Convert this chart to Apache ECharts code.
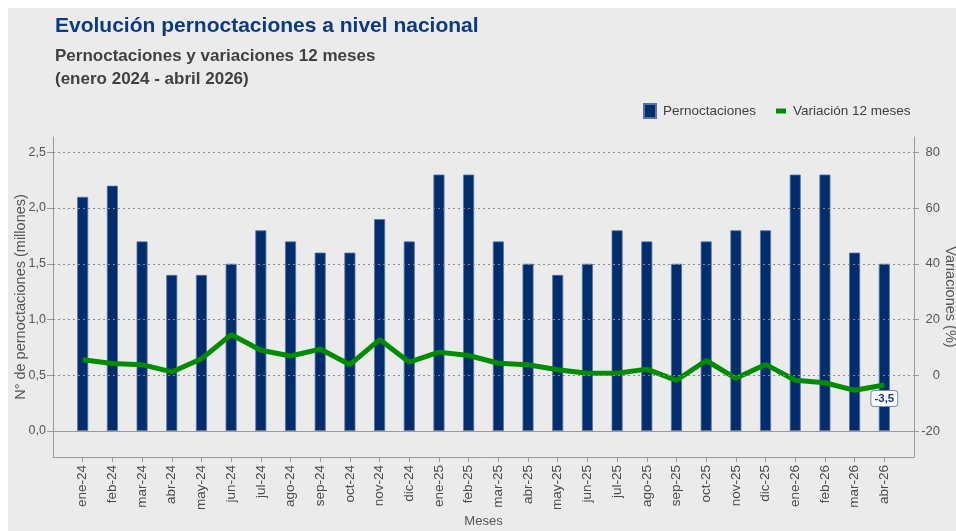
<!DOCTYPE html>
<html>
<head>
<meta charset="utf-8">
<script src="https://cdn.jsdelivr.net/npm/echarts@6/dist/echarts.min.js"></script>
<style>
html,body{margin:0;padding:0;background:#ffffff;}
#chart{width:956px;height:531px;}
</style>
</head>
<body>
<div id="chart"></div>
<script>
const categories = ['ene-24','feb-24','mar-24','abr-24','may-24','jun-24','jul-24','ago-24','sep-24','oct-24','nov-24','dic-24',
  'ene-25','feb-25','mar-25','abr-25','may-25','jun-25','jul-25','ago-25','sep-25','oct-25','nov-25','dic-25',
  'ene-26','feb-26','mar-26','abr-26'];
const pernoctaciones = [2.1,2.2,1.7,1.4,1.4,1.5,1.8,1.7,1.6,1.6,1.9,1.7,
  2.3,2.3,1.7,1.5,1.4,1.5,1.8,1.7,1.5,1.7,1.8,1.8,
  2.3,2.3,1.6,1.5];
const variacion = [5.6,4.2,3.8,1.2,5.9,14.6,9.0,6.9,9.4,3.8,12.8,4.7,
  8.3,7.1,4.3,3.8,2.0,0.7,0.7,2.2,-1.8,5.3,-1.1,3.9,
  -1.8,-2.7,-5.4,-3.5];
const leftTicks = [0,0.5,1,1.5,2,2.5];
const rightTicks = [-20,0,20,40,60,80];

const FONT = 'Liberation Sans, Arial, sans-serif';
const fmt = v => v.toFixed(1).replace('.', ',');
const xData = [''].concat(categories, ['']);
const pad = arr => [null].concat(arr, [null]);

const chart = echarts.init(document.getElementById('chart'), null, {renderer:'canvas'});
const gridLines = leftTicks.map(v => v === 0
  ? {yAxis: v, lineStyle: {type: 'solid', color: '#9a9a9a', width: 1}}
  : {yAxis: v, lineStyle: {type: [2, 3], color: '#8a8a8a', width: 1}});

chart.setOption({
  animation: false,
  textStyle: {fontFamily: FONT},
  graphic: [{type: 'rect', z: -100, silent: true, shape: {x: 8, y: 8, width: 948, height: 523}, style: {fill: '#ebebeb'}}],
  title: [
    {text: 'Evolución pernoctaciones a nivel nacional', left: 50, top: 11,
     textStyle: {fontFamily: FONT, fontSize: 21, fontWeight: 'bold', color: '#0b3a84'}},
    {text: 'Pernoctaciones y variaciones 12 meses', left: 50, top: 43,
     textStyle: {fontFamily: FONT, fontSize: 17, fontWeight: 'bold', color: '#404040'}},
    {text: '(enero 2024 - abril 2026)', left: 50, top: 66,
     textStyle: {fontFamily: FONT, fontSize: 17, fontWeight: 'bold', color: '#404040'}}
  ],
  legend: [
    {data: [{name: 'Pernoctaciones', icon: 'rect'}], left: 638, top: 98, itemWidth: 12, itemHeight: 14,
     textStyle: {fontFamily: FONT, fontSize: 13.5, color: '#404040', padding: [0, 0, 0, 2]}},
    {data: [{name: 'Variación 12 meses', icon: 'rect'}], left: 771, top: 99, itemWidth: 10, itemHeight: 5,
     textStyle: {fontFamily: FONT, fontSize: 13.5, color: '#404040', padding: [0, 0, 0, 2]}}
  ],
  grid: {left: 53, right: 42, top: 137, bottom: 74, containLabel: false, outerBoundsMode: 'none'},
  xAxis: {
    type: 'category', data: xData, boundaryGap: false, position: 'bottom',
    axisLine: {show: true, onZero: false, lineStyle: {color: '#9a9a9a'}},
    axisTick: {show: true, length: 5, interval: (i) => i > 0 && i < xData.length - 1, lineStyle: {color: '#9a9a9a'}},
    axisLabel: {rotate: 90, interval: 0, fontSize: 13.5, color: '#4a4a4a', margin: 8, fontFamily: FONT},
    splitLine: {show: false},
    name: 'Meses', nameLocation: 'middle', nameGap: 58, nameMoveOverlap: false,
    nameTextStyle: {fontSize: 13, color: '#555555', fontFamily: FONT}
  },
  yAxis: [
    {
      type: 'value', position: 'left', min: -0.233, max: 2.637,
      axisLine: {show: true, lineStyle: {color: '#9a9a9a'}},
      axisTick: {show: true, length: 6, customValues: leftTicks, lineStyle: {color: '#9a9a9a'}},
      axisLabel: {customValues: leftTicks, formatter: v => fmt(v), fontSize: 12.5, color: '#555555', margin: 7, fontFamily: FONT},
      splitLine: {show: false},
      name: 'N° de pernoctaciones (millones)', nameLocation: 'middle', nameGap: 25, nameMoveOverlap: false,
      nameTextStyle: {fontSize: 14.5, color: '#555555', fontFamily: FONT}
    },
    {
      type: 'value', position: 'right', min: -29.32, max: 85.48,
      axisLine: {show: true, lineStyle: {color: '#9a9a9a'}},
      axisTick: {show: true, length: 5, customValues: rightTicks, lineStyle: {color: '#9a9a9a'}},
      axisLabel: {customValues: rightTicks, formatter: v => String(v), align: 'right', fontSize: 13, color: '#555555', margin: 26, fontFamily: FONT},
      splitLine: {show: false},
      name: 'Variaciones (%)', nameLocation: 'middle', nameGap: 28, nameRotate: -90, nameMoveOverlap: false,
      nameTextStyle: {fontSize: 14.5, color: '#555555', fontFamily: FONT}
    }
  ],
  series: [
    {
      name: 'grid', type: 'line', yAxisIndex: 0, z: 1, data: pad(categories.map(() => null)),
      symbol: 'none', silent: true,
      markLine: {silent: true, symbol: ['none', 'none'], label: {show: false}, animation: false, data: gridLines}
    },
    {
      name: 'Pernoctaciones', type: 'bar', yAxisIndex: 0, z: 2, barWidth: 11,
      data: pad(pernoctaciones),
      itemStyle: {color: '#002d6e', borderColor: '#5a72a3', borderWidth: 0.8}
    },
    {
      name: 'Variación 12 meses', type: 'line', yAxisIndex: 1, z: 3,
      data: pad(variacion.map((v, i) => i === variacion.length - 1
        ? {value: v, label: {show: true}}
        : v)),
      symbol: 'circle', symbolSize: 0.1, showSymbol: true,
      itemStyle: {color: '#008c00'},
      lineStyle: {color: '#008c00', width: 5},
      label: {
        show: false, position: 'bottom', distance: 6,
        formatter: p => fmt(p.value),
        fontFamily: FONT, fontSize: 11.5, fontWeight: 'bold', color: '#1b3a78',
        backgroundColor: '#ffffff', borderColor: '#6f8cc0', borderWidth: 1, borderRadius: 3,
        padding: [2, 3, 1, 3]
      }
    }
  ]
});
</script>
</body>
</html>
